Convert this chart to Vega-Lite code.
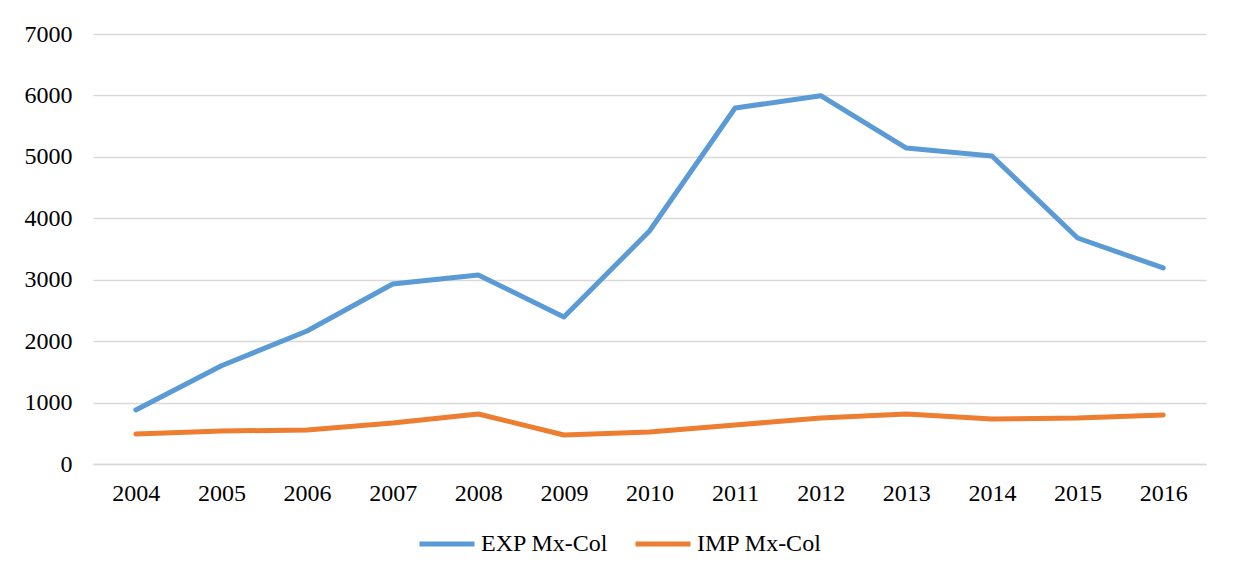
{
  "$schema": "https://vega.github.io/schema/vega-lite/v6.json",
  "width": 1113,
  "height": 430,
  "autosize": {"type": "none"},
  "padding": {"left": 93, "top": 34, "right": 27, "bottom": 113},
  "background": "white",
  "config": {
    "view": {"stroke": null},
    "font": "Liberation Serif",
    "axis": {"labelFont": "Liberation Serif", "labelFontSize": 24, "labelColor": "#000000", "ticks": false, "gridColor": "#d9d9d9", "gridWidth": 1.5, "title": null},
    "legend": {"labelFont": "Liberation Serif", "labelFontSize": 24, "labelColor": "#000000"}
  },
  "data": {
    "values": [
      {"year": "2004", "series": "EXP Mx-Col", "value": 880},
      {"year": "2005", "series": "EXP Mx-Col", "value": 1600},
      {"year": "2006", "series": "EXP Mx-Col", "value": 2165},
      {"year": "2007", "series": "EXP Mx-Col", "value": 2930},
      {"year": "2008", "series": "EXP Mx-Col", "value": 3077},
      {"year": "2009", "series": "EXP Mx-Col", "value": 2393},
      {"year": "2010", "series": "EXP Mx-Col", "value": 3793},
      {"year": "2011", "series": "EXP Mx-Col", "value": 5795},
      {"year": "2012", "series": "EXP Mx-Col", "value": 5995},
      {"year": "2013", "series": "EXP Mx-Col", "value": 5144},
      {"year": "2014", "series": "EXP Mx-Col", "value": 5014},
      {"year": "2015", "series": "EXP Mx-Col", "value": 3679},
      {"year": "2016", "series": "EXP Mx-Col", "value": 3191},
      {"year": "2004", "series": "IMP Mx-Col", "value": 488},
      {"year": "2005", "series": "IMP Mx-Col", "value": 537},
      {"year": "2006", "series": "IMP Mx-Col", "value": 553},
      {"year": "2007", "series": "IMP Mx-Col", "value": 667},
      {"year": "2008", "series": "IMP Mx-Col", "value": 814},
      {"year": "2009", "series": "IMP Mx-Col", "value": 472},
      {"year": "2010", "series": "IMP Mx-Col", "value": 521},
      {"year": "2011", "series": "IMP Mx-Col", "value": 635},
      {"year": "2012", "series": "IMP Mx-Col", "value": 749},
      {"year": "2013", "series": "IMP Mx-Col", "value": 814},
      {"year": "2014", "series": "IMP Mx-Col", "value": 733},
      {"year": "2015", "series": "IMP Mx-Col", "value": 749},
      {"year": "2016", "series": "IMP Mx-Col", "value": 798}
    ]
  },
  "mark": {"type": "line", "strokeWidth": 5, "strokeCap": "round", "strokeJoin": "round"},
  "encoding": {
    "x": {
      "field": "year", "type": "ordinal",
      "scale": {"type": "point", "padding": 0.5},
      "axis": {"labelAngle": 0, "grid": false, "domainColor": "#d9d9d9", "domainWidth": 1.5, "labelPadding": 17}
    },
    "y": {
      "field": "value", "type": "quantitative",
      "scale": {"domain": [0, 7000], "nice": false},
      "axis": {"values": [0, 1000, 2000, 3000, 4000, 5000, 6000, 7000], "domain": false, "labelPadding": 21, "format": "d"}
    },
    "color": {
      "field": "series", "type": "nominal",
      "scale": {"domain": ["EXP Mx-Col", "IMP Mx-Col"], "range": ["#5b9bd5", "#ed7d31"]},
      "legend": {
        "title": null, "orient": "none", "direction": "horizontal",
        "legendX": 324, "legendY": 480,
        "symbolType": "stroke", "symbolSize": 3025, "symbolStrokeWidth": 5,
        "labelOffset": 4, "columnPadding": 16
      }
    }
  }
}
